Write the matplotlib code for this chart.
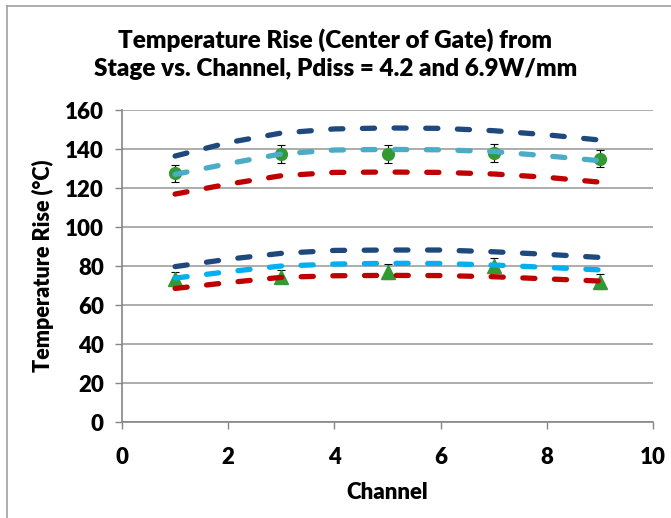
import matplotlib.pyplot as plt
from matplotlib.lines import Line2D

# sampled channel positions for the model curves
x_curve = [1, 2, 3, 4, 5, 6, 7, 8, 9]

# Pdiss = 6.9 W/mm model curves
hi_dark = [136.4, 143.3, 148.2, 150.3, 150.8, 150.6, 149.4, 147.3, 144.6]
hi_teal = [127.0, 132.5, 137.5, 139.5, 139.8, 139.6, 138.7, 136.5, 134.0]
hi_red = [116.9, 122.0, 126.3, 128.0, 128.2, 128.0, 127.2, 125.5, 123.0]

# Pdiss = 4.2 W/mm model curves
lo_dark = [79.7, 83.5, 86.5, 88.0, 88.2, 88.2, 87.3, 86.0, 84.4]
lo_blue = [73.8, 77.1, 80.0, 81.0, 81.4, 81.3, 80.5, 79.3, 78.0]
lo_red = [68.5, 71.5, 74.2, 75.0, 75.2, 75.1, 74.5, 73.4, 72.3]

# measured points
x_meas = [1, 3, 5, 7, 9]
hi_meas = [127.5, 137.3, 137.4, 137.8, 135.0]
hi_err = [4.5, 4.6, 4.8, 4.6, 4.4]
lo_meas = [73.2, 74.5, 77.1, 80.2, 72.0]
lo_err = [3.5, 3.4, 3.8, 3.7, 3.7]

DARK = '#1F497D'
TEAL = '#4BACC6'
BLUE = '#00B0F0'
RED = '#C00000'
GREEN = '#339933'

plt.rcParams['font.family'] = ['Lato', 'DejaVu Sans']
W = 'heavy'

fig = plt.figure(figsize=(6.71, 5.18), dpi=100)
ax = fig.add_axes([0.1818, 0.1853, 0.7914, 0.6023])

# chart area frame (only top and left edges visible)
fig.add_artist(Line2D([7 / 671, 7 / 671], [0, 1 - 6 / 518], color='#A0A0A0', lw=1.2))
fig.add_artist(Line2D([7 / 671, 1], [1 - 6 / 518, 1 - 6 / 518], color='#A0A0A0', lw=1.2))

ax.errorbar(x_meas, hi_meas, yerr=hi_err, fmt='o', color=GREEN, ms=8.5,
            ecolor='black', elinewidth=0.8, capsize=3, capthick=0.8, zorder=1.5)
ax.errorbar(x_meas, lo_meas, yerr=lo_err, fmt='^', color=GREEN, ms=9.5,
            ecolor='black', elinewidth=0.8, capsize=3, capthick=0.8, zorder=1.5)

dash = dict(lw=3.8, dashes=(2.3, 3.7), dash_capstyle='round', solid_capstyle='round', zorder=2)
ax.plot(x_curve, hi_dark, color=DARK, **dash)
ax.plot(x_curve, hi_teal, color=TEAL, **dash)
ax.plot(x_curve, hi_red, color=RED, **dash)
ax.plot(x_curve, lo_dark, color=DARK, **dash)
ax.plot(x_curve, lo_blue, color=BLUE, **dash)
ax.plot(x_curve, lo_red, color=RED, **dash)

ax.set_xlim(0, 10)
ax.set_ylim(0, 160)
ax.set_xticks(range(0, 11, 2))
ax.set_yticks(range(0, 161, 20))
ax.yaxis.grid(True, color='#A6A6A6', lw=1.3)
ax.set_axisbelow(True)

for s in ['top', 'right']:
    ax.spines[s].set_visible(False)
for s in ['left', 'bottom']:
    ax.spines[s].set_color('#868686')
    ax.spines[s].set_linewidth(1.2)
ax.tick_params(axis='both', colors='#868686', length=5, width=1.0,
               labelcolor='black', labelsize=16)
ax.tick_params(axis='x', pad=13)
ax.tick_params(axis='y', pad=8)
for lab in ax.get_xticklabels() + ax.get_yticklabels():
    lab.set_fontweight(W)

ax.set_xlabel('Channel', fontsize=16, fontweight=W, labelpad=10)
ax.set_ylabel('Temperature Rise (°C)', fontsize=15.5, fontweight=W, labelpad=8)

fig.text(0.5, 1 - 54 / 518,
         'Temperature Rise (Center of Gate) from\nStage vs. Channel, Pdiss = 4.2 and 6.9W/mm',
         ha='center', va='center', fontsize=17.5, fontweight=W, linespacing=1.3)

fig.savefig('out.png', dpi=100)
